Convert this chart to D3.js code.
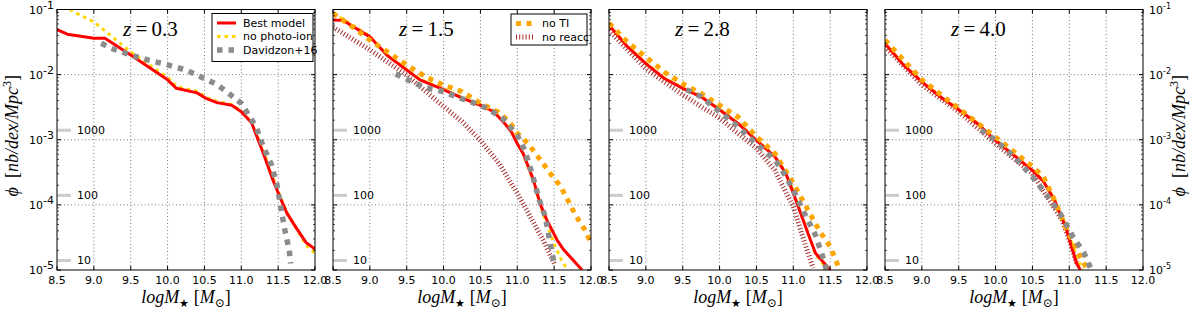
<!DOCTYPE html>
<html>
<head>
<meta charset="utf-8">
<script src="https://cdn.jsdelivr.net/npm/d3@7"></script>
<style>
  body { margin: 0; background: #fff; }
  svg { display: block; }
  .tick-label { font-family: "DejaVu Sans", sans-serif; font-size: 11px; fill: #000; }
  .math { font-family: "Liberation Serif", "DejaVu Serif", serif; fill: #000; }
</style>
</head>
<body>
<svg id="chart" width="1200" height="311"></svg>
<script>
// redshift of each panel
var redshifts = ["0.3", "1.5", "2.8", "4.0"];
var massTicks = [8.5, 9.0, 9.5, 10.0, 10.5, 11.0, 11.5, 12.0];
var phiTicks = [1e-1, 1e-2, 1e-3, 1e-4, 1e-5];
var phiExponents = ["-1", "-2", "-3", "-4", "-5"];
// number-of-galaxies reference marks
var refCounts = ["1000", "100", "10"];
var refPhi = [1.4e-3, 1.4e-4, 1.4e-5];

// [logM, log10 phi]
var best_z03 = [[8.5,-1.31],[8.64,-1.38],[9.0,-1.44],[9.15,-1.44],[9.5,-1.70],[10.0,-2.08],[10.12,-2.21],[10.4,-2.28],[10.53,-2.37],[10.67,-2.43],[10.87,-2.47],[11.0,-2.57],[11.14,-2.74],[11.3,-3.21],[11.43,-3.62],[11.52,-3.87],[11.62,-4.13],[11.75,-4.36],[11.88,-4.58],[12.0,-4.68]];
var best_z15 = [[8.5,-1.16],[8.64,-1.17],[9.0,-1.42],[9.23,-1.70],[9.5,-1.93],[9.68,-2.08],[10.0,-2.23],[10.27,-2.37],[10.5,-2.47],[10.68,-2.57],[10.83,-2.75],[10.92,-2.88],[11.0,-3.06],[11.08,-3.21],[11.22,-3.62],[11.31,-3.98],[11.4,-4.23],[11.54,-4.54],[11.63,-4.69],[11.88,-5.0]];
var best_z28 = [[8.5,-1.24],[8.75,-1.57],[9.0,-1.83],[9.25,-2.06],[9.5,-2.21],[9.75,-2.34],[10.0,-2.54],[10.25,-2.75],[10.5,-3.01],[10.75,-3.26],[10.9,-3.52],[11.0,-3.82],[11.1,-4.13],[11.2,-4.44],[11.3,-4.74],[11.4,-4.87],[11.5,-5.0]];
var best_z40 = [[8.5,-1.52],[8.75,-1.85],[9.0,-2.11],[9.25,-2.34],[9.5,-2.54],[9.75,-2.75],[10.0,-3.01],[10.25,-3.24],[10.5,-3.47],[10.65,-3.64],[10.8,-3.93],[10.95,-4.34],[11.1,-4.90],[11.15,-5.0]];

var noPhoto_z03 = [[8.5,-0.88],[8.75,-1.05],[9.0,-1.19],[9.25,-1.42],[9.5,-1.65],[9.75,-1.85],[10.0,-2.04],[10.12,-2.18],[10.4,-2.26],[10.53,-2.35],[10.67,-2.41],[10.87,-2.46],[11.0,-2.56],[11.14,-2.73],[11.3,-3.18],[11.43,-3.58],[11.52,-3.85],[11.62,-4.12],[11.75,-4.37],[11.88,-4.62],[12.0,-4.74]];
var noPhoto_z15 = [[8.5,-1.06],[8.64,-1.15],[9.0,-1.41],[9.23,-1.69],[9.5,-1.92],[9.68,-2.07],[10.0,-2.22],[10.27,-2.36],[10.5,-2.46],[10.68,-2.56],[10.83,-2.74],[10.92,-2.87],[11.0,-3.05],[11.08,-3.22],[11.22,-3.64],[11.31,-4.0],[11.4,-4.3],[11.5,-4.6],[11.6,-4.85],[11.68,-5.0]];
var noPhoto_z28 = [[8.5,-1.23],[8.75,-1.56],[9.0,-1.82],[9.25,-2.05],[9.5,-2.20],[9.75,-2.33],[10.0,-2.53],[10.25,-2.74],[10.5,-3.0],[10.75,-3.25],[10.9,-3.50],[11.0,-3.80],[11.1,-4.12],[11.2,-4.43],[11.3,-4.76],[11.4,-4.9],[11.48,-5.0]];
var noPhoto_z40 = [[8.5,-1.51],[8.75,-1.84],[9.0,-2.10],[9.25,-2.33],[9.5,-2.53],[9.75,-2.74],[10.0,-3.0],[10.25,-3.23],[10.5,-3.46],[10.65,-3.63],[10.8,-3.92],[10.95,-4.30],[11.1,-4.80],[11.18,-5.0]];

var davidzon_z03 = [[9.1,-1.52],[9.27,-1.61],[9.5,-1.70],[9.75,-1.78],[10.0,-1.85],[10.25,-1.93],[10.5,-2.06],[10.65,-2.14],[10.8,-2.26],[11.0,-2.44],[11.1,-2.62],[11.2,-2.80],[11.3,-3.11],[11.4,-3.36],[11.48,-3.67],[11.55,-4.13],[11.6,-4.44],[11.65,-4.69],[11.67,-4.9]];
var davidzon_z15 = [[9.35,-1.99],[9.5,-2.07],[9.75,-2.20],[10.0,-2.26],[10.2,-2.35],[10.4,-2.43],[10.6,-2.52],[10.8,-2.67],[10.9,-2.80],[11.0,-2.93],[11.1,-3.16],[11.2,-3.52],[11.3,-3.93],[11.38,-4.18],[11.43,-4.49],[11.5,-4.90]];
var davidzon_z28 = [[9.55,-2.23],[9.75,-2.34],[10.0,-2.57],[10.25,-2.80],[10.5,-3.06],[10.75,-3.31],[10.85,-3.47],[11.0,-3.77],[11.15,-4.13],[11.3,-4.46],[11.4,-4.80],[11.45,-5.0]];
var davidzon_z40 = [[9.8,-2.85],[10.0,-3.01],[10.25,-3.26],[10.5,-3.57],[10.75,-3.93],[10.9,-4.18],[11.05,-4.49],[11.2,-4.74],[11.3,-5.0]];

var noTI_z15 = [[8.5,-1.06],[8.77,-1.27],[9.0,-1.47],[9.5,-1.85],[9.75,-2.03],[10.0,-2.16],[10.25,-2.26],[10.5,-2.44],[10.75,-2.58],[10.9,-2.74],[11.0,-2.90],[11.14,-3.05],[11.26,-3.23],[11.45,-3.52],[11.59,-3.72],[11.74,-4.05],[11.83,-4.23],[11.92,-4.39],[11.99,-4.56]];
var noTI_z28 = [[8.5,-1.21],[8.75,-1.50],[9.0,-1.73],[9.25,-1.96],[9.5,-2.14],[9.75,-2.29],[10.0,-2.47],[10.25,-2.65],[10.5,-2.95],[10.75,-3.21],[11.0,-3.67],[11.2,-4.08],[11.35,-4.39],[11.5,-4.64],[11.62,-4.97]];
var noTI_z40 = [[8.5,-1.47],[9.0,-2.08],[9.5,-2.52],[10.0,-2.96],[10.5,-3.41],[10.65,-3.57],[10.8,-3.93],[10.95,-4.34],[11.1,-4.69],[11.2,-4.90],[11.25,-5.0]];

var noReacc_z15 = [[8.5,-1.27],[9.0,-1.62],[9.5,-2.01],[10.0,-2.49],[10.25,-2.72],[10.5,-3.01],[10.75,-3.36],[11.0,-3.82],[11.2,-4.23],[11.35,-4.54],[11.5,-4.90]];
var noReacc_z28 = [[8.5,-1.32],[9.0,-1.91],[9.5,-2.31],[10.0,-2.67],[10.5,-3.13],[10.75,-3.47],[11.0,-4.03],[11.1,-4.39],[11.2,-4.74],[11.27,-4.97]];
var noReacc_z40 = [[8.5,-1.57],[9.0,-2.16],[9.5,-2.57],[10.0,-3.06],[10.5,-3.52],[10.7,-3.88],[10.9,-4.23],[11.0,-4.54],[11.1,-4.9]];

// line styles, in drawing order
var styles = {
  noReacc:  { label: "no reacc",     color: "#a52a2a", width: 5,   dash: "1,2.2" },
  noPhoto:  { label: "no photo-ion", color: "#ffd700", width: 3,   dash: "3.5,4" },
  best:     { label: "Best model",   color: "#ff0000", width: 3,   dash: null },
  noTI:     { label: "no TI",        color: "#ffa500", width: 5,   dash: "5,5.5" },
  davidzon: { label: "Davidzon+16",  color: "#8c8c8c", width: 5.5, dash: "5.5,6" }
};

var panels = [
  { z: redshifts[0], series: { noPhoto: noPhoto_z03, best: best_z03, davidzon: davidzon_z03 } },
  { z: redshifts[1], series: { noReacc: noReacc_z15, noPhoto: noPhoto_z15, best: best_z15, noTI: noTI_z15, davidzon: davidzon_z15 } },
  { z: redshifts[2], series: { noReacc: noReacc_z28, noPhoto: noPhoto_z28, best: best_z28, noTI: noTI_z28, davidzon: davidzon_z28 } },
  { z: redshifts[3], series: { noReacc: noReacc_z40, noPhoto: noPhoto_z40, best: best_z40, noTI: noTI_z40, davidzon: davidzon_z40 } }
];

var svg = d3.select("#chart");
var margin = { top: 9.5, left: 57 },
  panelW = 258,
  panelH = 260.5,
  step = 276;

var y = d3.scaleLog().domain([1e-5, 1e-1]).range([panelH, 0]);
var x = d3.scaleLinear().domain([8.5, 12.0]).range([0, panelW]);

var minorTicks = [];
[-5, -4, -3, -2].forEach(function (e) {
  for (var k = 2; k <= 9; k++) minorTicks.push(k * Math.pow(10, e));
});

var order = ["noReacc", "noPhoto", "best", "noTI", "davidzon"];

panels.forEach(function (p, i) {
  var g = svg.append("g")
    .attr("transform", "translate(" + (margin.left + i * step) + "," + margin.top + ")");

  g.append("clipPath").attr("id", "clip" + i)
    .append("rect").attr("width", panelW).attr("height", panelH);

  // grid
  g.selectAll(".gx").data(massTicks.slice(1, -1)).enter().append("line")
    .attr("x1", function (d) { return x(d); }).attr("x2", function (d) { return x(d); })
    .attr("y1", 0).attr("y2", panelH)
    .attr("stroke", "#555").attr("stroke-width", 0.8).attr("stroke-dasharray", "1,2.5");
  g.selectAll(".gy").data(phiTicks.slice(1, -1)).enter().append("line")
    .attr("y1", function (d) { return y(d); }).attr("y2", function (d) { return y(d); })
    .attr("x1", 0).attr("x2", panelW)
    .attr("stroke", "#555").attr("stroke-width", 0.8).attr("stroke-dasharray", "1,2.5");

  // reference counts
  g.selectAll(".ref").data(refPhi).enter().append("line")
    .attr("x1", 0).attr("x2", 14)
    .attr("y1", function (d) { return y(d); }).attr("y2", function (d) { return y(d); })
    .attr("stroke", "#cccccc").attr("stroke-width", 3);
  g.selectAll(".refl").data(refCounts).enter().append("text")
    .attr("class", "tick-label")
    .attr("x", 20)
    .attr("y", function (d, j) { return y(refPhi[j]); })
    .attr("dy", "0.35em")
    .text(function (d) { return d; });

  // curves
  var line = d3.line()
    .x(function (d) { return x(d[0]); })
    .y(function (d) { return y(Math.pow(10, d[1])); });
  var curves = g.append("g").attr("clip-path", "url(#clip" + i + ")");
  order.forEach(function (key) {
    if (!p.series[key]) return;
    var s = styles[key];
    curves.append("path")
      .datum(p.series[key])
      .attr("d", line)
      .attr("fill", "none")
      .attr("stroke", s.color)
      .attr("stroke-width", s.width)
      .attr("stroke-dasharray", s.dash)
      .attr("stroke-linejoin", "round");
  });

  // ticks on all sides (inside)
  var tk = g.append("g");
  massTicks.forEach(function (m) {
    tk.append("line").attr("x1", x(m)).attr("x2", x(m)).attr("y1", panelH).attr("y2", panelH - 4).attr("stroke", "#000");
    tk.append("line").attr("x1", x(m)).attr("x2", x(m)).attr("y1", 0).attr("y2", 4).attr("stroke", "#000");
  });
  phiTicks.forEach(function (v) {
    tk.append("line").attr("x1", 0).attr("x2", 4).attr("y1", y(v)).attr("y2", y(v)).attr("stroke", "#000");
    tk.append("line").attr("x1", panelW).attr("x2", panelW - 4).attr("y1", y(v)).attr("y2", y(v)).attr("stroke", "#000");
  });
  minorTicks.forEach(function (v) {
    tk.append("line").attr("x1", 0).attr("x2", 2).attr("y1", y(v)).attr("y2", y(v)).attr("stroke", "#000").attr("stroke-width", 0.7);
    tk.append("line").attr("x1", panelW).attr("x2", panelW - 2).attr("y1", y(v)).attr("y2", y(v)).attr("stroke", "#000").attr("stroke-width", 0.7);
  });

  // frame
  g.append("rect").attr("width", panelW).attr("height", panelH)
    .attr("fill", "none").attr("stroke", "#000").attr("stroke-width", 1);

  // x tick labels
  g.selectAll(".xl").data(massTicks).enter().append("text")
    .attr("class", "tick-label")
    .attr("x", function (d) { return x(d); })
    .attr("y", panelH + 14)
    .attr("text-anchor", "middle")
    .text(function (d) { return d.toFixed(1); });

  // x label
  var xl = g.append("text").attr("class", "math")
    .attr("x", panelW / 2).attr("y", panelH + 33)
    .attr("text-anchor", "middle").attr("font-size", 18);
  xl.append("tspan").attr("font-style", "italic").text("logM");
  xl.append("tspan").attr("font-size", 11).attr("dy", 4).text("\u2605");
  xl.append("tspan").attr("dy", -4).text(" [");
  xl.append("tspan").attr("font-style", "italic").text("M");
  xl.append("tspan").attr("font-size", 12).attr("dy", 4).text("\u2299");
  xl.append("tspan").attr("dy", -4).text("]");

  // redshift label
  var zl = g.append("text").attr("class", "math")
    .attr("x", 66).attr("y", 26).attr("font-size", 21);
  zl.append("tspan").attr("font-style", "italic").text("z");
  zl.append("tspan").text("\u2009=\u2009" + p.z);

  // y tick labels on outer panels
  if (i === 0 || i === panels.length - 1) {
    var left = i === 0;
    phiTicks.forEach(function (v, j) {
      var t = g.append("text").attr("class", "tick-label")
        .attr("x", left ? -14 : panelW + 6)
        .attr("y", y(v) + 4)
        .attr("text-anchor", left ? "end" : "start");
      t.append("tspan").text("10");
      if (left) {
        g.append("text").attr("class", "tick-label").attr("font-size", 8)
          .attr("x", -14).attr("y", y(v) - 1).text(phiExponents[j]);
      } else {
        t.append("tspan").attr("font-size", 8).attr("dy", -5).text(phiExponents[j]);
      }
    });
    var yx = left ? -39 : panelW + 42;
    var yl = g.append("text").attr("class", "math")
      .attr("transform", "translate(" + yx + "," + (panelH / 2 - 4) + ") rotate(-90)")
      .attr("text-anchor", "middle").attr("font-size", 18);
    yl.append("tspan").attr("font-style", "italic").text("\u03d5");
    yl.append("tspan").text("\u2002[");
    yl.append("tspan").attr("font-style", "italic").text("nb/dex/Mpc");
    yl.append("tspan").attr("font-size", 12).attr("dy", -7).text("3");
    yl.append("tspan").attr("dy", 7).text("]");
  }
});

// legends
function drawLegend(panelIndex, keys, box) {
  var g = svg.append("g")
    .attr("transform", "translate(" + (margin.left + panelIndex * step + box.x) + "," + (margin.top + box.y) + ")");
  g.append("rect").attr("width", box.w).attr("height", box.h)
    .attr("fill", "#fff").attr("stroke", "#000").attr("stroke-width", 1);
  keys.forEach(function (key, j) {
    var s = styles[key];
    var ly = 9.5 + j * 13.5;
    g.append("line").attr("x1", 5).attr("x2", 24).attr("y1", ly).attr("y2", ly)
      .attr("stroke", s.color).attr("stroke-width", s.width)
      .attr("stroke-dasharray", s.dash);
    g.append("text").attr("class", "tick-label").attr("font-size", 10.5)
      .attr("x", 31).attr("y", ly).attr("dy", "0.35em").text(s.label);
  });
}
drawLegend(0, ["best", "noPhoto", "davidzon"], { x: 155, y: 4, w: 101, h: 48 });
drawLegend(1, ["noTI", "noReacc"], { x: 178, y: 4.5, w: 76, h: 31 });
</script>
</body>
</html>
